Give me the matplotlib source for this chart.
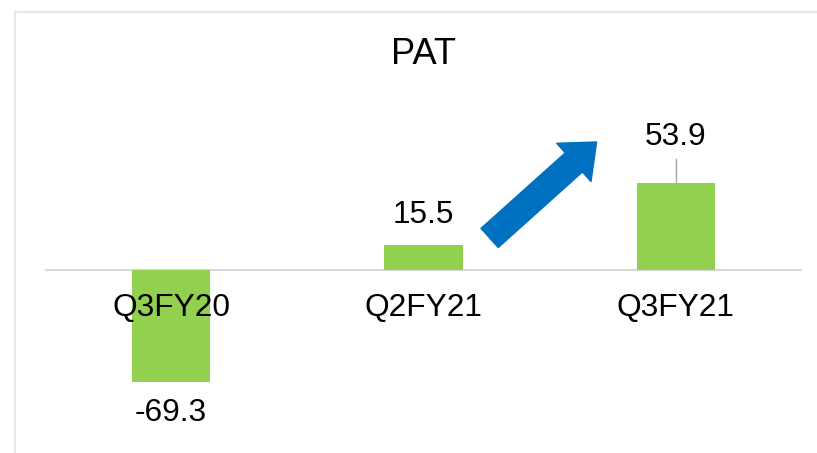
import matplotlib
matplotlib.use("Agg")
from matplotlib import pyplot as plt
from matplotlib.patches import Rectangle

plt.rcParams['font.family'] = ['Liberation Sans', 'DejaVu Sans']

# data
categories = ['Q3FY20', 'Q2FY21', 'Q3FY21']
pat_values = [-69.3, 15.5, 53.9]
value_labels = ['-69.3', '15.5', '53.9']

bar_color = '#92D050'
grid_color = '#D9D9D9'
arrow_color = '#0070C0'

fig = plt.figure(figsize=(8.17, 4.53), dpi=100)
ax = fig.add_axes([45 / 817, 22 / 453, 757 / 817, 322 / 453])
ax.set_xlim(-0.5, 2.5)
ax.set_ylim(-100, 100)
ax.axis('off')

# chart border
fig.patches.append(Rectangle((15 / 817, -0.05), 1.0, 441 / 453 + 0.05,
                             transform=fig.transFigure, fill=False,
                             edgecolor='#E6E6E6', linewidth=1.5))

ax.bar(range(len(categories)), pat_values, width=0.31, color=bar_color, zorder=2)
ax.axhline(0, color=grid_color, linewidth=1.5, zorder=1)

for i, cat in enumerate(categories):
    ax.text(i, -23.6, cat, ha='center', va='center', fontsize=22.8, zorder=3)

for i, (v, lab) in enumerate(zip(pat_values, value_labels)):
    if v < 0:
        y = v - 19.5
    elif i == 2:
        y = 82.6
        # leader line to the bar
        ax.plot([i, i], [v, 69], color='#A6A6A6', linewidth=1, zorder=1)
    else:
        y = v + 18.7
    ax.text(i, y, lab, ha='center', va='center', fontsize=22.8)

# growth arrow
ax.annotate('', xy=(1.686, 79.5), xytext=(1.262, 19.9),
            arrowprops=dict(arrowstyle='simple,head_width=3.7,head_length=2.2,tail_width=1.85',
                            mutation_scale=10, fc=arrow_color, ec=arrow_color,
                            shrinkA=0, shrinkB=0))

fig.text(423 / 817, 1 - 54.5 / 453, 'PAT', ha='center', va='center', fontsize=26)

plt.savefig('out.png', dpi=100)
